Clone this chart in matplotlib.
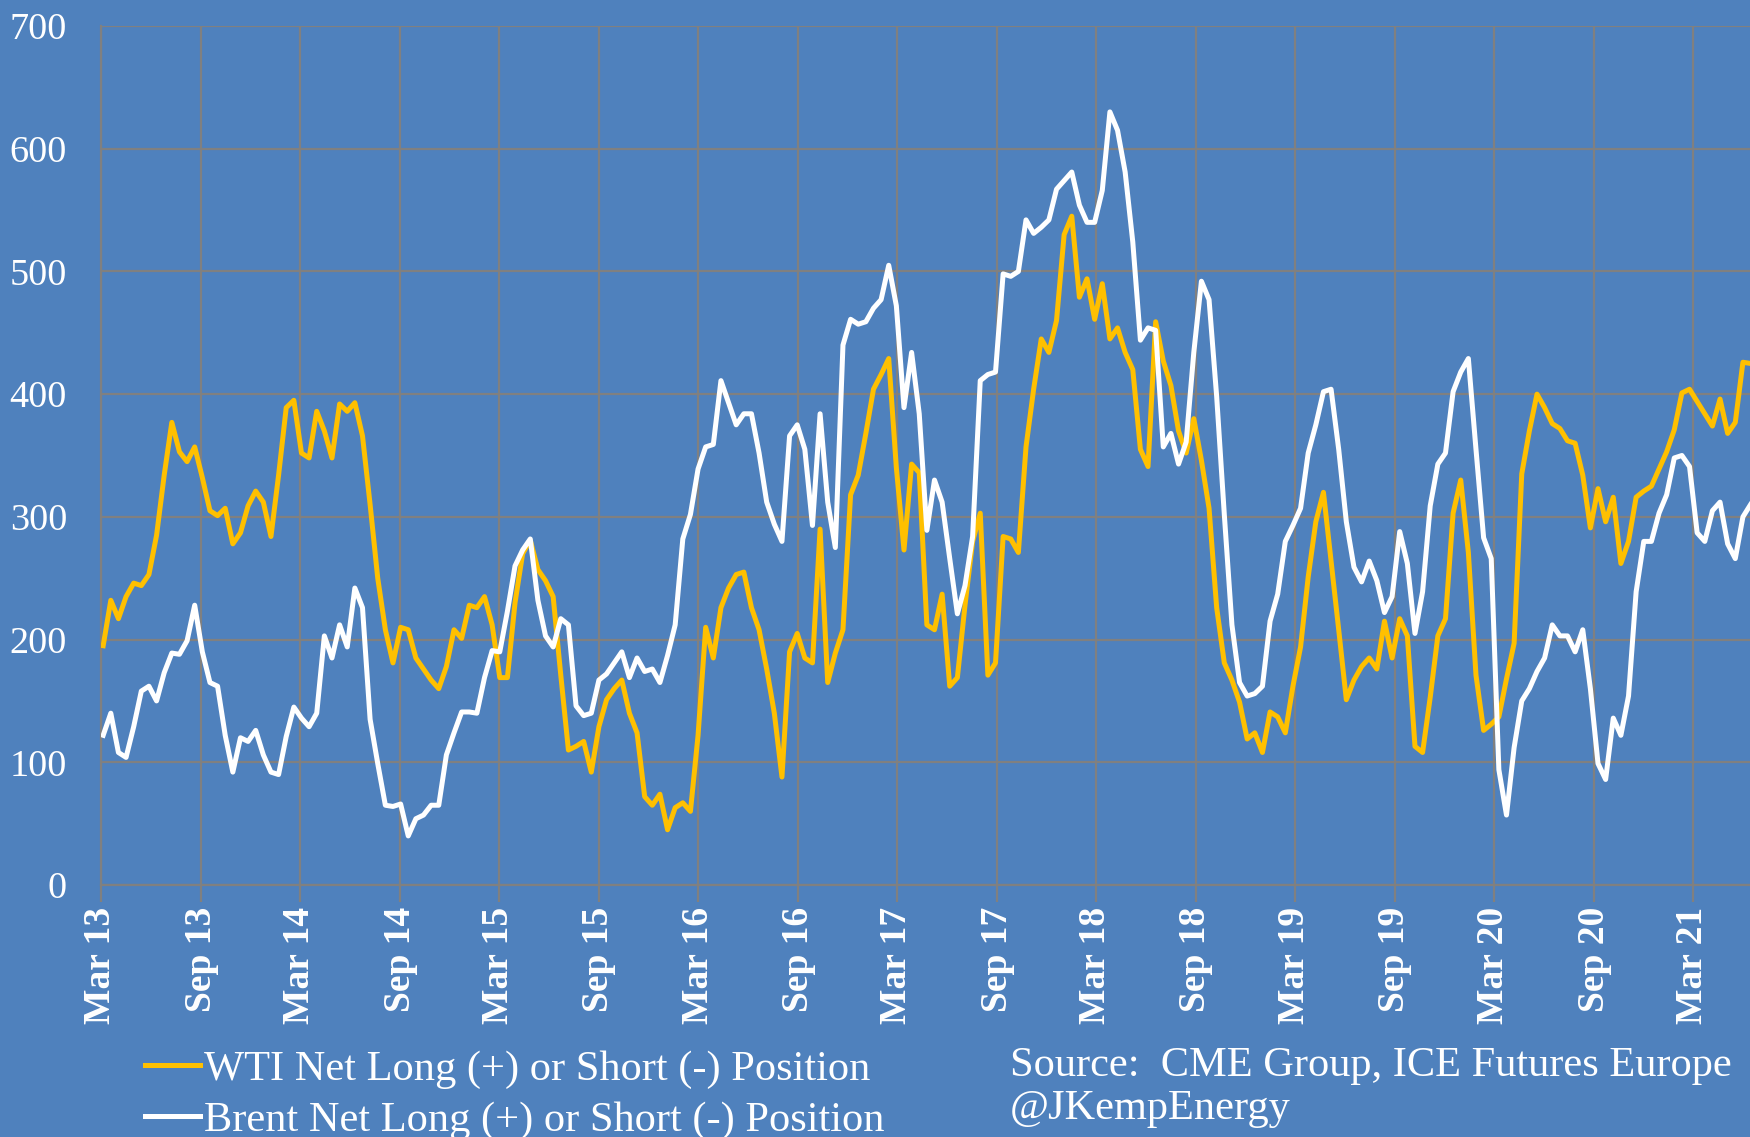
import matplotlib
matplotlib.use("Agg")
import matplotlib.pyplot as plt
import pandas as pd

# ---------------- data (biweekly readings, thousand contracts) ----------------
start_date = "2013-03-05"
n_points = 217

wti = [195, 232, 217, 235, 246, 244, 253, 285, 334, 377,
       353, 345, 357, 332, 305, 301, 307, 278, 287, 309,
       321, 312, 284, 334, 389, 395, 352, 348, 386, 370,
       348, 392,
       386, 393, 366, 310, 250, 208, 181, 210, 208, 185,
       176, 167, 160, 178, 208, 201, 228, 226, 235, 212,
       169, 169, 230, 270, 281, 257, 248, 235, 171, 110,
       113,
       117, 92, 129, 151, 160, 167, 140, 124, 72, 65,
       74, 45, 63, 67, 60, 122, 210, 185, 226, 242,
       253, 255, 226, 208, 176, 140, 88, 190, 205, 185,
       181,
       290, 165, 189, 208, 318, 334, 368, 404, 416, 429,
       340, 273, 343, 336, 212, 208, 237, 162, 169, 228,
       280, 303, 171, 181, 284, 282, 271, 357, 404, 445,
       434, 460,
       530, 545, 479, 494, 461, 490, 445, 454, 434, 420,
       355, 341, 459, 427, 407, 370, 352, 380, 346, 307,
       226, 181, 167, 149, 119, 124, 108, 141, 137, 124,
       162,
       194, 251, 296, 320, 264, 208, 151, 167, 178, 185,
       176, 215, 185, 217, 203, 113, 108, 153, 203, 217,
       303, 330, 271, 171, 126, 131, 137, 168, 197, 335,
       370,
       400, 389, 376, 372, 362, 360, 334, 291, 323, 296,
       316, 262, 280, 316, 321, 325, 339, 353, 371, 401,
       404, 394, 384, 374, 396, 368, 377, 426, 425]

brent = [122, 140, 108, 104, 129, 158, 162, 150, 173, 189,
         188, 199, 228, 190, 165, 162, 122, 92, 120, 117,
         126, 106, 92, 90, 121, 145, 136, 129, 140, 203,
         185, 212,
         194, 242, 226, 135, 99, 65, 64, 66, 40, 54,
         57, 65, 65, 106, 124, 141, 141, 140, 169, 191,
         190, 223, 260, 273, 282, 232, 203, 194, 217, 212,
         146,
         138, 140, 167, 172, 181, 190, 169, 185, 174, 176,
         165, 187, 212, 282, 302, 339, 357, 359, 411, 393,
         375, 384, 384, 352, 312, 294, 280, 366, 375, 355,
         293,
         384, 312, 275, 440, 461, 457, 459, 470, 477, 505,
         472, 389, 434, 384, 289, 330, 312, 266, 221, 244,
         284, 411, 416, 418, 498, 496, 500, 542, 531, 536,
         542, 567,
         574, 581, 554, 540, 540, 566, 630, 615, 581, 524,
         444, 454, 452, 357, 368, 343, 361, 434, 492, 477,
         398, 302, 212, 165, 154, 156, 162, 215, 237, 280,
         293,
         307, 352, 375, 402, 404, 355, 296, 259, 247, 264,
         248, 222, 235, 288, 262, 205, 239, 309, 343, 352,
         402, 418, 429, 355, 283, 266, 94, 57, 112, 150,
         160,
         174, 185, 212, 203, 203, 190, 208, 160, 99, 86,
         136, 122, 154, 239, 280, 280, 303, 318, 348, 350,
         341, 287, 280, 305, 312, 278, 266, 300, 310]

tick_dates = ["2013-03-01", "2013-09-01", "2014-03-01", "2014-09-01",
              "2015-03-01", "2015-09-01", "2016-03-01", "2016-09-01",
              "2017-03-01", "2017-09-01", "2018-03-01", "2018-09-01",
              "2019-03-01", "2019-09-01", "2020-03-01", "2020-09-01",
              "2021-03-01"]
tick_labels = ["Mar 13", "Sep 13", "Mar 14", "Sep 14", "Mar 15", "Sep 15",
               "Mar 16", "Sep 16", "Mar 17", "Sep 17", "Mar 18", "Sep 18",
               "Mar 19", "Sep 19", "Mar 20", "Sep 20", "Mar 21"]
y_ticks = [0, 100, 200, 300, 400, 500, 600, 700]

labels = ["WTI Net Long (+) or Short (-) Position",
          "Brent Net Long (+) or Short (-) Position"]
source_lines = ["Source:  CME Group, ICE Futures Europe", "@JKempEnergy"]

# ---------------- drawing ----------------
BG = "#4F81BD"
GRID = "#808080"
GOLD = "#FFC000"
FONT = ["Liberation Serif", "DejaVu Serif"]

dates = pd.date_range(start_date, periods=n_points, freq="14D")

W, H = 1750, 1137
fig = plt.figure(figsize=(W / 100, H / 100), dpi=100)
fig.patch.set_facecolor(BG)
ax = fig.add_axes([101 / W, 1 - 885 / H, 1 - 101 / W, (885 - 26) / H])
ax.set_facecolor(BG)

ax.plot(dates, wti, color=GOLD, lw=3.6, label=labels[0], solid_joinstyle="round", zorder=3)
ax.plot(dates, brent, color="white", lw=3.6, label=labels[1], solid_joinstyle="round", zorder=4)

ax.set_ylim(0, 700)
ax.set_xlim(pd.Timestamp("2013-03-01"), pd.Timestamp("2021-06-14"))
ax.set_yticks(y_ticks)
ax.set_yticklabels([str(v) for v in y_ticks], fontsize=27.5, color="white", family=FONT)
ax.set_xticks(pd.to_datetime(tick_dates))
ax.set_xticklabels(tick_labels, rotation=90, fontsize=27, fontweight="bold",
                   color="white", family=FONT)

ax.grid(True, color=GRID, lw=1.6, zorder=0)
ax.set_axisbelow(True)
for s in ["top", "right"]:
    ax.spines[s].set_visible(False)
for s in ["left", "bottom"]:
    ax.spines[s].set_color(GRID)
    ax.spines[s].set_linewidth(1.6)
ax.tick_params(axis="x", length=12, width=1.6, color=GRID, pad=4)
ax.tick_params(axis="y", length=0, pad=34 * 0.72)

leg = fig.legend(loc="upper left", bbox_to_anchor=(145 / W, 1 - 1050 / H),
                 frameon=False, handlelength=1.3, handletextpad=0.1,
                 labelspacing=0.3, borderpad=0, borderaxespad=0,
                 prop={"family": FONT, "size": 30.5})
for t in leg.get_texts():
    t.set_color("white")

fig.text(1010 / W, 1 - 1066 / H, source_lines[0], color="white", fontsize=30.5,
         family=FONT, va="center", ha="left")
fig.text(1010 / W, 1 - 1109 / H, source_lines[1], color="white", fontsize=30.5,
         family=FONT, va="center", ha="left")

fig.savefig("out.png", dpi=100, facecolor=BG)
